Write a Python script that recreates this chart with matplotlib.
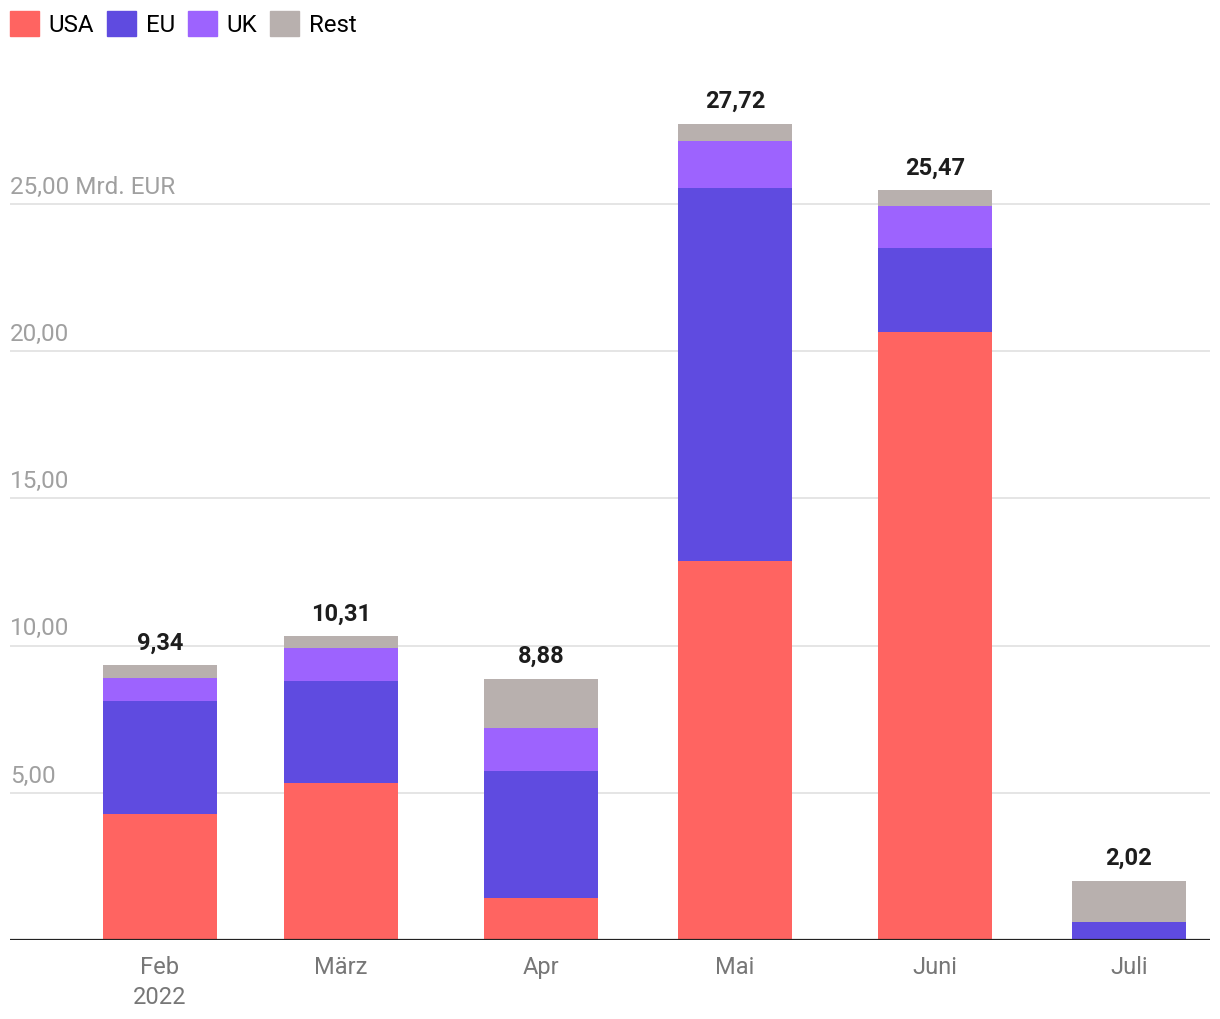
import numpy as np
import matplotlib
matplotlib.use("Agg")
from matplotlib import pyplot as plt
from matplotlib.patches import Patch
import matplotlib.dates as mdates

plt.rcParams['font.family'] = ['Roboto', 'DejaVu Sans']

months = ["2022-02-01", "2022-03-01", "2022-04-01", "2022-05-01", "2022-06-01", "2022-07-01"]
month_labels = ["Feb\n2022", "März", "Apr", "Mai", "Juni", "Juli"]
usa = [4.28, 5.33, 1.43, 12.87, 20.65, 0.00]
eu = [3.84, 3.47, 4.31, 12.67, 2.86, 0.61]
uk = [0.78, 1.12, 1.46, 1.60, 1.42, 0.00]
rest = [0.44, 0.39, 1.68, 0.58, 0.54, 1.41]
totals = [9.34, 10.31, 8.88, 27.72, 25.47, 2.02]

series = [("USA", usa, "#ff6461"), ("EU", eu, "#5f4be0"),
          ("UK", uk, "#9d63fe"), ("Rest", rest, "#b8b0ae")]

x = mdates.date2num(np.array(months, dtype="datetime64[D]"))
width = 17.65  # days

fig = plt.figure(figsize=(12.2, 10.2), dpi=100)
ax = fig.add_axes([10 / 1220, 79 / 1020, 1200 / 1220, 870 / 1020])

bottom = np.zeros(len(x))
for name, vals, col in series:
    ax.bar(x, vals, width=width, bottom=bottom, color=col, label=name, zorder=3)
    bottom += np.array(vals)

for xi, t in zip(x, totals):
    ax.annotate(f"{t:.2f}".replace(".", ","), (xi, t), xytext=(0, 12),
                textcoords="offset points", ha="center", va="baseline",
                fontsize=17, fontweight="bold", color="#1d1d1d")

ax.set_xlim(x[0] - 23.22, x[-1] + 12.54)
ax.set_ylim(0, 29.55)

yticks = [5, 10, 15, 20, 25]
for yv in yticks:
    ax.axhline(yv, color="#e3e3e3", lw=1.3, zorder=1)
    lab = f"{yv:.2f}".replace(".", ",")
    if yv == 25:
        lab += " Mrd. EUR"
    ax.annotate(lab, (0, yv), xycoords=("axes fraction", "data"), xytext=(0, 4.5),
                textcoords="offset points", ha="left", va="bottom",
                fontsize=17.5, color="#a0a0a0")
ax.axhline(0, color="#222222", lw=1.6, zorder=4)

ax.set_yticks([])
ax.set_xticks(x)
ax.set_xticklabels(month_labels, fontsize=17, color="#777777", linespacing=1.35)
ax.tick_params(axis="x", length=0, pad=11)
for s in ax.spines.values():
    s.set_visible(False)

handles = [Patch(color=c, label=n) for n, _, c in series]
fig.legend(handles=handles, loc="upper left", bbox_to_anchor=(10 / 1220, 1 - 12 / 1020),
           ncol=4, frameon=False, fontsize=17.3, handlelength=1.2, handleheight=1.2,
           handletextpad=0.4, columnspacing=0.55, borderaxespad=0, borderpad=0)

fig.savefig("out.png", dpi=100)
